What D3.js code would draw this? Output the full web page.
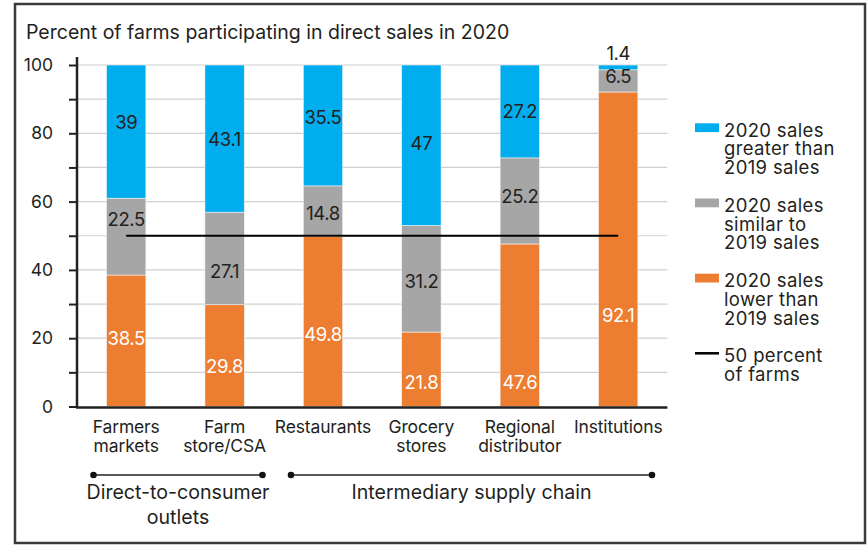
<!DOCTYPE html>
<html><head><meta charset="utf-8">
<script src="https://cdn.jsdelivr.net/npm/d3@7"></script>
<style>
body{margin:0;background:#fff;}
text{font-family:Inter,Roboto,sans-serif;fill:#231f20;}
</style></head>
<body><svg id="c" width="867" height="545"></svg>
<script>
const categories = [["Farmers","markets"],["Farm","store/CSA"],["Restaurants"],["Grocery","stores"],["Regional","distributor"],["Institutions"]];
const lower   = [38.5, 29.8, 49.8, 21.8, 47.6, 92.1];
const similar = [22.5, 27.1, 14.8, 31.2, 25.2, 6.5];
const greater = [39, 43.1, 35.5, 47, 27.2, 1.4];
const referenceLine = 50;
const yTicks = [0, 20, 40, 60, 80, 100];
// label anchor values (in percent units) as placed in the original
const lowerLabelAt   = [19.9, 11.8, 21.1, 7.2, 7.2, 26.7];
const similarLabelAt = [54.8, 39.5, 56.5, 36.6, 61.5, 96.8];
const greaterLabelAt = [83.2, 78.3, 84.8, 77.1, 86.4, 103.4];
const groups = [{name:["Direct-to-consumer","outlets"], from:0, to:1},{name:["Intermediary supply chain"], from:2, to:5}];
const legendItems = [
  {lines:["2020 sales","greater than","2019 sales"], key:"greater"},
  {lines:["2020 sales","similar to","2019 sales"], key:"similar"},
  {lines:["2020 sales","lower than","2019 sales"], key:"lower"},
  {lines:["50 percent","of farms"], key:"line"}];

const colors = {lower:"#ED7D31", similar:"#A6A6A6", greater:"#00AEEF", line:"#000"};
const svg = d3.select("#c");

// frame
svg.append("rect").attr("x",15).attr("y",4).attr("width",850).attr("height",539)
  .attr("fill","none").attr("stroke","#3a3a3a").attr("stroke-width",2.5);

svg.append("text").attr("x",26).attr("y",39).attr("font-size",19.5)
  .text("Percent of farms participating in direct sales in 2020");

const x0 = 77, x1 = 667.4, yBot = 406.5, yTop = 65;
const x = d3.scaleBand().domain(d3.range(categories.length)).range([x0,x1]).paddingInner(0.6).paddingOuter(0.3);
const y = d3.scaleLinear().domain([0,100]).range([yBot,yTop]);

// gridlines
svg.append("g").selectAll("line").data(d3.range(10,101,10)).join("line")
  .attr("x1",x0).attr("x2",x1).attr("y1",d=>y(d)).attr("y2",d=>y(d))
  .attr("stroke","#d0d0d0").attr("stroke-width",1.2);

// stacks
const rows = categories.map((c,i)=>({i, lower:lower[i], similar:similar[i], greater:greater[i]}));
const keys = ["lower","similar","greater"];
const stack = d3.stack().keys(keys)(rows);
svg.append("g").selectAll("g").data(stack).join("g").attr("fill",d=>colors[d.key])
  .selectAll("rect").data(d=>d).join("rect")
  .attr("x",d=>x(d.data.i)).attr("width",x.bandwidth())
  .attr("y",d=>y(Math.min(d[1],100))).attr("height",d=>y(d[0])-y(Math.min(d[1],100)))
  .attr("stroke","#f3f3f3").attr("stroke-width",0.6);

// 50 percent line
svg.append("line").attr("x1",x(0)+x.bandwidth()/2).attr("x2",x(5)+x.bandwidth()/2)
  .attr("y1",y(referenceLine)).attr("y2",y(referenceLine)).attr("stroke","#000").attr("stroke-width",2.2);

// value labels
const labelSets = [
  {vals:lower, at:lowerLabelAt, fill:"#fff"},
  {vals:similar, at:similarLabelAt, fill:"#231f20"},
  {vals:greater, at:greaterLabelAt, fill:"#231f20"}];
labelSets.forEach(s=>{
  svg.append("g").selectAll("text").data(s.vals).join("text")
    .attr("x",(d,i)=>x(i)+x.bandwidth()/2).attr("y",(d,i)=>y(s.at[i]))
    .attr("dy","0.36em").attr("text-anchor","middle").attr("font-size",18.5).attr("letter-spacing",-0.4)
    .style("fill",s.fill).text(d=>d);
});

// y axis
const yAxis = d3.axisLeft(y).tickValues(d3.range(0,101,10)).tickSize(8).tickFormat(d=>yTicks.includes(d)?d:"");
const ya = svg.append("g").attr("transform",`translate(${x0},0)`).call(yAxis);
ya.select(".domain").remove();
ya.selectAll(".tick line").attr("stroke","#222").attr("stroke-width",2);
ya.selectAll(".tick text").attr("x",-24).attr("font-size",17.5).attr("font-family","Inter,sans-serif").style("fill","#231f20");
svg.append("line").attr("x1",x0).attr("x2",x0).attr("y1",57).attr("y2",yBot+1).attr("stroke","#222").attr("stroke-width",2.5);
svg.append("line").attr("x1",x0-1).attr("x2",x1).attr("y1",yBot+1).attr("y2",yBot+1).attr("stroke","#222").attr("stroke-width",2.5);

// category labels
const cg = svg.append("g").selectAll("text").data(categories).join("text")
  .attr("x",(d,i)=>x(i)+x.bandwidth()/2).attr("y",432.7).attr("text-anchor","middle").attr("font-size",17.5).attr("letter-spacing",-0.15);
cg.selectAll("tspan").data(d=>d).join("tspan").attr("x",function(){return this.parentNode.getAttribute("x");})
  .attr("dy",(d,j)=>j?19.5:0).text(d=>d);

// group brackets
const groupExt = [[93.5,262.5],[291,652]];
groups.forEach((g,k)=>{
  const a = groupExt[k][0], b = groupExt[k][1];
  svg.append("line").attr("x1",a).attr("x2",b).attr("y1",475).attr("y2",475).attr("stroke","#222").attr("stroke-width",1.6);
  [a,b].forEach(p=>svg.append("circle").attr("cx",p).attr("cy",475).attr("r",3.3).attr("fill","#111"));
  const t = svg.append("text").attr("x",(a+b)/2).attr("y",498.5).attr("text-anchor","middle").attr("font-size",19.6);
  g.name.forEach((n,j)=>t.append("tspan").attr("x",(a+b)/2).attr("dy",j?25:0).text(n));
});

// legend
const lg = svg.append("g");
legendItems.forEach((it,k)=>{
  const cy = 127.7 + k*75.2;
  if(it.key==="line"){
    lg.append("line").attr("x1",695).attr("x2",719).attr("y1",cy).attr("y2",cy).attr("stroke","#000").attr("stroke-width",2.5);
  } else {
    lg.append("rect").attr("x",695).attr("y",cy-4.4).attr("width",24).attr("height",8.8).attr("fill",colors[it.key]);
  }
  const t = lg.append("text").attr("x",724).attr("y",cy+8.8).attr("font-size",18.5).attr("letter-spacing",0.35);
  it.lines.forEach((l,j)=>t.append("tspan").attr("x",724).attr("dy",j?18.8:0).text(l));
});
</script></body></html>
